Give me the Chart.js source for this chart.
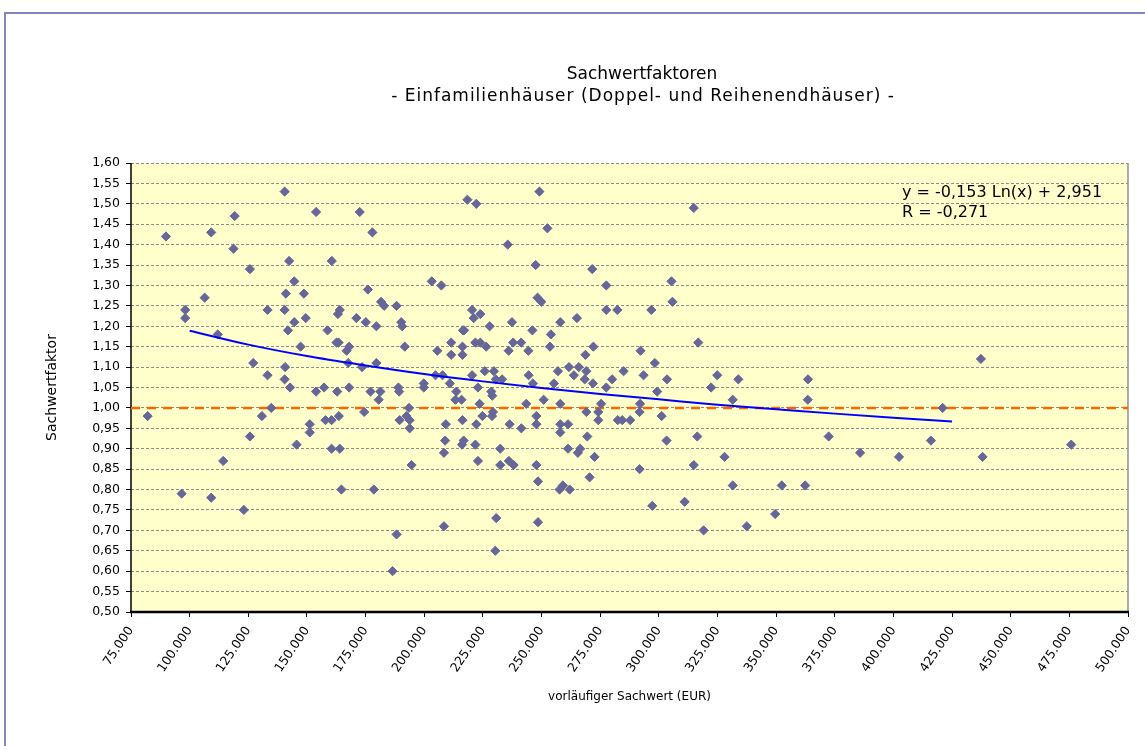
<!DOCTYPE html>
<html lang="de">

<head>
    <meta charset="UTF-8" />
    <title>Sachwertfaktoren</title>
    <script src="https://cdn.jsdelivr.net/npm/chart.js"></script>
    <style>
        html, body { margin: 0; padding: 0; background: #fff; }
        #wrap { width: 1145px; height: 746px; }
    </style>
</head>

<body>
    <div id="wrap">
        <canvas id="grafico" width="1145" height="746"></canvas>
    </div>

<script>
    // Titel und Achsen
    const titulo = ['Sachwertfaktoren', '- Einfamilienhäuser (Doppel- und Reihenendhäuser) -'];
    const tituloX = 'vorläufiger Sachwert (EUR)';
    const tituloY = 'Sachwertfaktor';
    const equacao = ['y = -0,153 Ln(x) + 2,951', 'R = -0,271'];

    const xTicks = [75000, 100000, 125000, 150000, 175000, 200000, 225000, 250000, 275000,
        300000, 325000, 350000, 375000, 400000, 425000, 450000, 475000, 500000];
    const yTicks = [0.50, 0.55, 0.60, 0.65, 0.70, 0.75, 0.80, 0.85, 0.90, 0.95, 1.00,
        1.05, 1.10, 1.15, 1.20, 1.25, 1.30, 1.35, 1.40, 1.45, 1.50, 1.55, 1.60];

    // vorläufiger Sachwert (EUR)
    const sachwert = [
        89900, 98100, 98100, 106400, 109200, 112000, 119200, 118700, 125700, 127100,
        133200, 133200, 140500, 142400, 144600, 141000, 140500, 144600, 141900, 148700,
        149500, 147300, 140700, 140500, 142800, 153900, 160600, 158800, 163200, 164000,
        162600, 163500, 166900, 167600, 157300, 153900,
        82100, 96600, 109200, 114300, 123100, 125700, 130800, 134800, 145600, 151200,
        151200, 157900, 160500, 163600, 160500, 164000, 164700, 162900, 168000,
        172500, 177900, 218400, 222200, 249100, 252500, 235600, 247500, 271600, 203200,
        207300, 176000, 277600, 248300, 249900, 181600, 182900, 188200, 220400, 221100,
        223900, 171100, 175100, 179600, 190200, 190600, 227900, 237400, 258000, 265100,
        277600, 216500, 217000, 246100, 254000, 168000, 191700, 205600, 211500, 211500,
        216300, 216300, 221800, 223900, 226400, 236000, 237900, 241300, 244400, 253600,
        272100, 268700, 173500, 179600, 204800, 207800, 210900, 199800, 199800, 189000,
        220400, 225800, 229700, 230500, 233200, 244500, 246300, 257000, 255300, 261700,
        265900, 263800, 269100, 268400, 271900,
        177100, 181300, 180600, 189300, 213700, 213300, 215900, 222900, 223600, 228600,
        229000, 243500, 250900, 258000, 275400, 277600, 174400, 189500, 192400, 193500,
        193800, 193800, 209200, 216300, 222200, 224800, 228900, 229300, 236400, 241400,
        247800, 247800, 258000, 258000, 261300, 269100, 274200, 274200, 178500, 194600,
        208900, 208400, 216100, 216800, 221800, 222900, 232400, 232400, 236100, 238100,
        247800, 248500, 261300, 265500, 266500, 269500, 272600, 270500, 257700, 259100,
        262000, 208400, 188200, 230700, 230300, 248500, 186500,
        314900, 305400, 305800, 282300, 296800, 316800, 292200, 298300, 285000, 280100,
        293500, 303500, 299300, 324900, 322300, 333900, 363600,
        292000, 291800, 331500, 363500, 282500, 284400, 287800, 301200, 303300, 316400,
        291800, 314900, 328000, 331500, 352400, 362400, 297200, 311000, 319100, 337500,
        349600, 372400, 385800,
        402400, 416000, 421000, 438000, 475800, 437300
    ];

    // Sachwertfaktor
    const faktor = [
        1.42, 1.24, 1.22, 1.27, 1.43, 1.18, 1.47, 1.39, 1.34, 1.11,
        1.24, 1.08, 1.53, 1.36, 1.31, 1.28, 1.24, 1.21, 1.19, 1.28,
        1.22, 1.15, 1.10, 1.07, 1.05, 1.48, 1.36, 1.19, 1.23, 1.24,
        1.16, 1.16, 1.14, 1.11, 1.05, 1.04,
        0.98, 0.79, 0.78, 0.87, 0.75, 0.93, 0.98, 1.00, 0.91, 0.96,
        0.94, 0.97, 0.97, 0.98, 0.90, 0.90, 0.80, 1.04, 1.05,
        1.48, 1.43, 1.51, 1.50, 1.53, 1.44, 1.40, 1.35, 1.34, 1.31,
        1.30, 1.29, 1.30, 1.27, 1.26, 1.26, 1.25, 1.25, 1.24, 1.22,
        1.23, 1.22, 1.21, 1.20, 1.21, 1.20, 1.20, 1.21, 1.21, 1.22,
        1.24, 1.19, 1.19, 1.19, 1.18, 1.15, 1.15, 1.14, 1.16, 1.13,
        1.15, 1.13, 1.16, 1.16, 1.15, 1.14, 1.16, 1.16, 1.14, 1.15,
        1.15, 1.13, 1.10, 1.11, 1.08, 1.08, 1.06, 1.06, 1.05, 1.05,
        1.08, 1.09, 1.09, 1.07, 1.07, 1.08, 1.06, 1.09, 1.06, 1.10,
        1.10, 1.08, 1.09, 1.07, 1.06,
        1.04, 1.04, 1.02, 1.04, 1.04, 1.02, 1.02, 1.05, 1.01, 1.04,
        1.03, 1.01, 1.02, 1.01, 1.01, 1.05, 0.99, 0.97, 0.98, 1.00,
        0.97, 0.95, 0.96, 0.97, 0.96, 0.98, 0.98, 0.99, 0.96, 0.95,
        0.98, 0.96, 0.96, 0.94, 0.96, 0.99, 0.99, 0.97, 0.80, 0.86,
        0.92, 0.89, 0.91, 0.92, 0.91, 0.87, 0.90, 0.86, 0.87, 0.86,
        0.86, 0.82, 0.90, 0.89, 0.90, 0.93, 0.88, 0.83, 0.80, 0.81,
        0.80, 0.71, 0.69, 0.73, 0.65, 0.72, 0.60,
        1.49, 1.31, 1.26, 1.24, 1.24, 1.16, 1.14, 1.11, 1.09, 1.07,
        1.08, 1.07, 1.04, 1.08, 1.05, 1.07, 1.07,
        1.01, 0.99, 1.02, 1.02, 0.97, 0.97, 0.97, 0.98, 0.92, 0.93,
        0.85, 0.86, 0.88, 0.81, 0.81, 0.81, 0.76, 0.77, 0.70, 0.71,
        0.74, 0.93, 0.89,
        0.88, 0.92, 1.00, 0.88, 0.91, 1.12
    ];

    // logarithmische Trendlinie
    const trendX = [100000, 125000, 150000, 175000, 200000, 225000, 250000, 275000,
        300000, 325000, 350000, 375000, 400000, 425000];
    const trendY = [1.189, 1.155, 1.127, 1.104, 1.083, 1.065, 1.049, 1.034,
        1.021, 1.008, 0.997, 0.986, 0.976, 0.967];

    // Linie bei 1,00
    const refX = [75000, 500000];
    const refY = [1.00, 1.00];

    function pares(xs, ys) {
        const pts = [];
        for (let i = 0; i < xs.length; i++) {
            pts.push({ x: xs[i], y: ys[i] });
        }
        return pts;
    }

    function formatoMil(v) {
        return String(v).replace(/\B(?=(\d{3})+(?!\d))/g, '.');
    }

    const fonte = '"DejaVu Sans", Verdana, sans-serif';

    const moldura = {
        id: 'moldura',
        beforeDraw(chart) {
            const ctx = chart.ctx;
            const a = chart.chartArea;
            ctx.save();
            ctx.fillStyle = '#fff';
            ctx.fillRect(0, 0, chart.width, chart.height);
            // Rahmen
            ctx.strokeStyle = '#8585b5';
            ctx.lineWidth = 2;
            ctx.beginPath();
            ctx.moveTo(5, 746);
            ctx.lineTo(5, 13);
            ctx.lineTo(1145, 13);
            ctx.stroke();
            // Zeichnungsfläche
            ctx.fillStyle = '#ffffcc';
            ctx.fillRect(a.left, a.top, a.right - a.left, a.bottom - a.top);
            // Titel
            ctx.fillStyle = '#000';
            ctx.font = '17px ' + fonte;
            ctx.textAlign = 'center';
            ctx.textBaseline = 'middle';
            ctx.fillText(titulo[0], 642, 75);
            ctx.letterSpacing = '1px';
            ctx.fillText(titulo[1], 643, 97);
            ctx.restore();
        },
        beforeDatasetsDraw(chart) {
            const ctx = chart.ctx;
            const a = chart.chartArea;
            ctx.save();
            ctx.strokeStyle = '#909090';
            ctx.lineWidth = 1.5;
            ctx.beginPath();
            ctx.moveTo(a.right, a.top);
            ctx.lineTo(a.right, a.bottom);
            ctx.stroke();
            ctx.strokeStyle = '#000';
            ctx.lineWidth = 1.5;
            ctx.beginPath();
            ctx.moveTo(a.left, a.top);
            ctx.lineTo(a.left, a.bottom);
            ctx.stroke();
            ctx.lineWidth = 2.5;
            ctx.beginPath();
            ctx.moveTo(a.left - 1, a.bottom);
            ctx.lineTo(a.right + 1, a.bottom);
            ctx.stroke();
            ctx.restore();
        },
        afterDatasetsDraw(chart) {
            const ctx = chart.ctx;
            ctx.save();
            ctx.fillStyle = '#000';
            ctx.font = '16px ' + fonte;
            ctx.textAlign = 'left';
            ctx.textBaseline = 'middle';
            ctx.fillText(equacao[0], 902, 193);
            ctx.fillText(equacao[1], 902, 213);
            ctx.restore();
        }
    };

    const config = {
        type: 'scatter',
        data: {
            datasets: [{
                label: 'Trendlinie',
                data: pares(trendX, trendY),
                showLine: true,
                borderColor: '#0000ff',
                borderWidth: 2,
                pointRadius: 0,
                cubicInterpolationMode: 'monotone',
                order: 0
            }, {
                label: 'Sachwertfaktor',
                data: pares(sachwert, faktor),
                pointStyle: 'rectRot',
                pointRadius: 4.6,
                backgroundColor: '#666699',
                borderColor: '#666699',
                borderWidth: 1,
                order: 1
            }, {
                label: '1,00',
                data: pares(refX, refY),
                showLine: true,
                borderColor: '#ff6600',
                borderWidth: 2.5,
                borderDash: [9, 7],
                pointRadius: 0,
                order: 2
            }]
        },
        plugins: [moldura],
        options: {
            responsive: false,
            animation: false,
            layout: {
                padding: { left: 40, top: 163, right: 17, bottom: 38 }
            },
            plugins: {
                legend: { display: false },
                tooltip: { enabled: false },
                title: { display: false }
            },
            scales: {
                x: {
                    type: 'linear',
                    min: 75000,
                    max: 500000,
                    afterFit: function (scale) {
                        scale.height = 96;
                        scale.paddingLeft = 0;
                        scale.paddingRight = 0;
                    },
                    afterBuildTicks: function (scale) {
                        scale.ticks = xTicks.map(v => ({ value: v }));
                    },
                    ticks: {
                        callback: v => formatoMil(v),
                        minRotation: 56,
                        maxRotation: 56,
                        color: '#000',
                        padding: 7,
                        font: { family: fonte, size: 12.5 }
                    },
                    grid: {
                        drawOnChartArea: false,
                        drawTicks: true,
                        tickLength: 5,
                        tickColor: '#000',
                        tickWidth: 1
                    },
                    border: { display: false },
                    title: {
                        display: true,
                        text: tituloX,
                        color: '#000',
                        font: { family: fonte, size: 12 }
                    }
                },
                y: {
                    min: 0.5,
                    max: 1.6,
                    afterFit: function (scale) { scale.width = 91; },
                    afterBuildTicks: function (scale) {
                        scale.ticks = yTicks.map(v => ({ value: v }));
                    },
                    ticks: {
                        callback: v => v.toFixed(2).replace('.', ','),
                        color: '#000',
                        padding: 6,
                        font: { family: fonte, size: 12.5 }
                    },
                    grid: {
                        color: '#8c8c8c',
                        lineWidth: 1,
                        tickLength: 5,
                        tickColor: '#000',
                        tickBorderDash: []
                    },
                    border: { display: false, dash: [3, 2] },
                    title: {
                        display: true,
                        text: tituloY,
                        color: '#000',
                        font: { family: fonte, size: 14 }
                    }
                }
            }
        }
    };

    const grafico = new Chart(document.getElementById('grafico'), config);
</script>
</body>

</html>
